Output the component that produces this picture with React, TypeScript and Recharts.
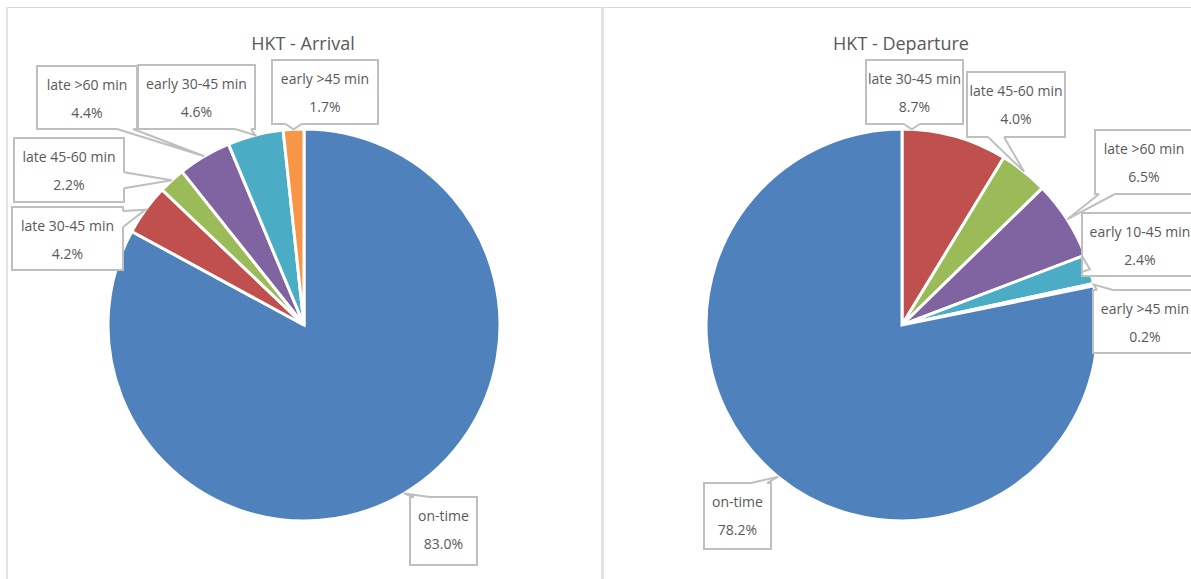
import { PieChart, Pie, Cell } from 'recharts';

// HKT on-time performance, share of flights (%)
const arrivalNames = ['on-time', 'late 30-45 min', 'late 45-60 min', 'late >60 min', 'early 30-45 min', 'early >45 min'];
const arrivalValues = [83.0, 4.2, 2.2, 4.4, 4.6, 1.7];

const departureNames = ['late 30-45 min', 'late 45-60 min', 'late >60 min', 'early 10-45 min', 'early >45 min', 'on-time'];
const departureValues = [8.7, 4.0, 6.5, 2.4, 0.2, 78.2];

const COLORS: Record<string, string> = {
  'on-time': '#4F81BD',
  'late 30-45 min': '#C0504D',
  'late 45-60 min': '#9BBB59',
  'late >60 min': '#8064A2',
  'early 30-45 min': '#4BACC6',
  'early 10-45 min': '#4BACC6',
  'early >45 min': '#F79646',
};

// callout boxes, chart coordinates (x, y, w, h, optional leader angle shift / base position)
type Box = { x: number; y: number; w: number; h: number; shift?: number; baseAt?: number };
const arrivalBoxes: Box[] = [
  { x: 410, y: 497, w: 67, h: 68 },
  { x: 12, y: 207, w: 111, h: 63 },
  { x: 14, y: 138, w: 110, h: 64 },
  { x: 37, y: 66, w: 100, h: 63 },
  { x: 138, y: 65, w: 117, h: 64 },
  { x: 272, y: 60, w: 106, h: 64 },
];
const RIGHT_LEFT = 598;
const departureBoxes: Box[] = [
  { x: 866 - RIGHT_LEFT, y: 60, w: 97, h: 64, shift: 12.8 },
  { x: 967 - RIGHT_LEFT, y: 72, w: 98, h: 65, baseAt: 996 - RIGHT_LEFT },
  { x: 1095 - RIGHT_LEFT, y: 130, w: 98, h: 64 },
  { x: 1082 - RIGHT_LEFT, y: 213, w: 116, h: 63 },
  { x: 1093 - RIGHT_LEFT, y: 290, w: 104, h: 63 },
  { x: 704 - RIGHT_LEFT, y: 483, w: 67, h: 66 },
];

const FONT = '"Open Sans", "Noto Sans", sans-serif';
const TEXT = '#595959';
const LINE = '#BFBFBF';

const clamp = (v: number, lo: number, hi: number) => Math.max(lo, Math.min(hi, v));

function Callout({ box, tip, name, value }: { box: Box; tip: [number, number]; name: string; value: number }) {
  const { x, y, w, h } = box;
  const hw = 8;
  let b0: [number, number];
  let b1: [number, number];
  let inset: [number, number];
  if (tip[1] > y + h) {
    const bx = clamp(box.baseAt ?? tip[0], x + hw + 4, x + w - hw - 4);
    b0 = [bx - hw, y + h]; b1 = [bx + hw, y + h]; inset = [0, -2];
  } else if (tip[1] < y) {
    const bx = clamp(box.baseAt ?? tip[0], x + hw + 4, x + w - hw - 4);
    b0 = [bx - hw, y]; b1 = [bx + hw, y]; inset = [0, 2];
  } else if (tip[0] > x + w) {
    const by = clamp(tip[1], y + hw + 4, y + h - hw - 4);
    b0 = [x + w, by - hw]; b1 = [x + w, by + hw]; inset = [-2, 0];
  } else {
    const by = clamp(tip[1], y + hw + 4, y + h - hw - 4);
    b0 = [x, by - hw]; b1 = [x, by + hw]; inset = [2, 0];
  }
  const p = (a: [number, number]) => `${a[0]},${a[1]}`;
  const b0in: [number, number] = [b0[0] + inset[0], b0[1] + inset[1]];
  const b1in: [number, number] = [b1[0] + inset[0], b1[1] + inset[1]];
  return (
    <g>
      <rect x={x} y={y} width={w} height={h} fill="#fff" stroke={LINE} strokeWidth={2} />
      <polygon points={`${p(b0in)} ${p(b0)} ${p(tip)} ${p(b1)} ${p(b1in)}`} fill="#fff" />
      <polyline points={`${p(b0)} ${p(tip)} ${p(b1)}`} fill="none" stroke={LINE} strokeWidth={2} />
      <text x={x + w / 2} y={y + 18} textAnchor="middle" dominantBaseline="central" fill={TEXT} fontSize={14} fontFamily={FONT}>
        {name}
      </text>
      <text x={x + w / 2} y={y + 46} textAnchor="middle" dominantBaseline="central" fill={TEXT} fontSize={14} fontFamily={FONT}>
        {value.toFixed(1)}%
      </text>
    </g>
  );
}

function makeLabel(boxes: Box[]) {
  return (props: any) => {
    const { cx, cy, midAngle, outerRadius, index, payload } = props;
    const box = boxes[index];
    const ang = ((midAngle + (box.shift ?? 0)) * Math.PI) / 180;
    const tip: [number, number] = [cx + outerRadius * Math.cos(-ang), cy + outerRadius * Math.sin(-ang)];
    return <Callout key={index} box={box} tip={tip} name={payload.name} value={payload.value} />;
  };
}

function PiePanel({ title, names, values, boxes, left, width }: {
  title: string; names: string[]; values: number[]; boxes: Box[]; left: number; width: number;
}) {
  const data = names.map((n, i) => ({ name: n, value: values[i] }));
  return (
    <div style={{ position: 'absolute', left, top: 0, width, height: 579 }}>
      <div style={{
        position: 'absolute', left: 0, top: 31, width: 606, textAlign: 'center',
        fontFamily: FONT, fontSize: 18, color: TEXT,
      }}>
        {title}
      </div>
      <div style={{ position: 'absolute', left: 0, top: 0 }}>
        <PieChart width={width} height={579} margin={{ top: 0, right: 0, bottom: 0, left: 0 }}>
          <Pie
            data={data}
            dataKey="value"
            nameKey="name"
            cx={304}
            cy={325}
            outerRadius={196}
            startAngle={90}
            endAngle={-270}
            stroke="#fff"
            strokeWidth={3}
            labelLine={false}
            label={makeLabel(boxes)}
            isAnimationActive={false}
          >
            {data.map(d => (
              <Cell key={d.name} fill={COLORS[d.name]} />
            ))}
          </Pie>
        </PieChart>
      </div>
    </div>
  );
}

export default function App() {
  return (
    <div style={{ position: 'absolute', left: 0, top: 0, width: 1191, height: 579, background: '#fff', overflow: 'hidden' }}>
      {/* panel frames */}
      <div style={{ position: 'absolute', left: 6, top: 7, width: 1185, height: 1, background: '#D9D9D9' }} />
      <div style={{ position: 'absolute', left: 6, top: 7, width: 2, height: 572, background: '#E3E3E3' }} />

      <PiePanel title="HKT - Arrival" names={arrivalNames} values={arrivalValues} boxes={arrivalBoxes} left={0} width={600} />
      <PiePanel title="HKT - Departure" names={departureNames} values={departureValues} boxes={departureBoxes} left={RIGHT_LEFT} width={1191 - RIGHT_LEFT} />

      <div style={{ position: 'absolute', left: 601, top: 7, width: 3, height: 572, background: '#E3E3E3' }} />
    </div>
  );
}
